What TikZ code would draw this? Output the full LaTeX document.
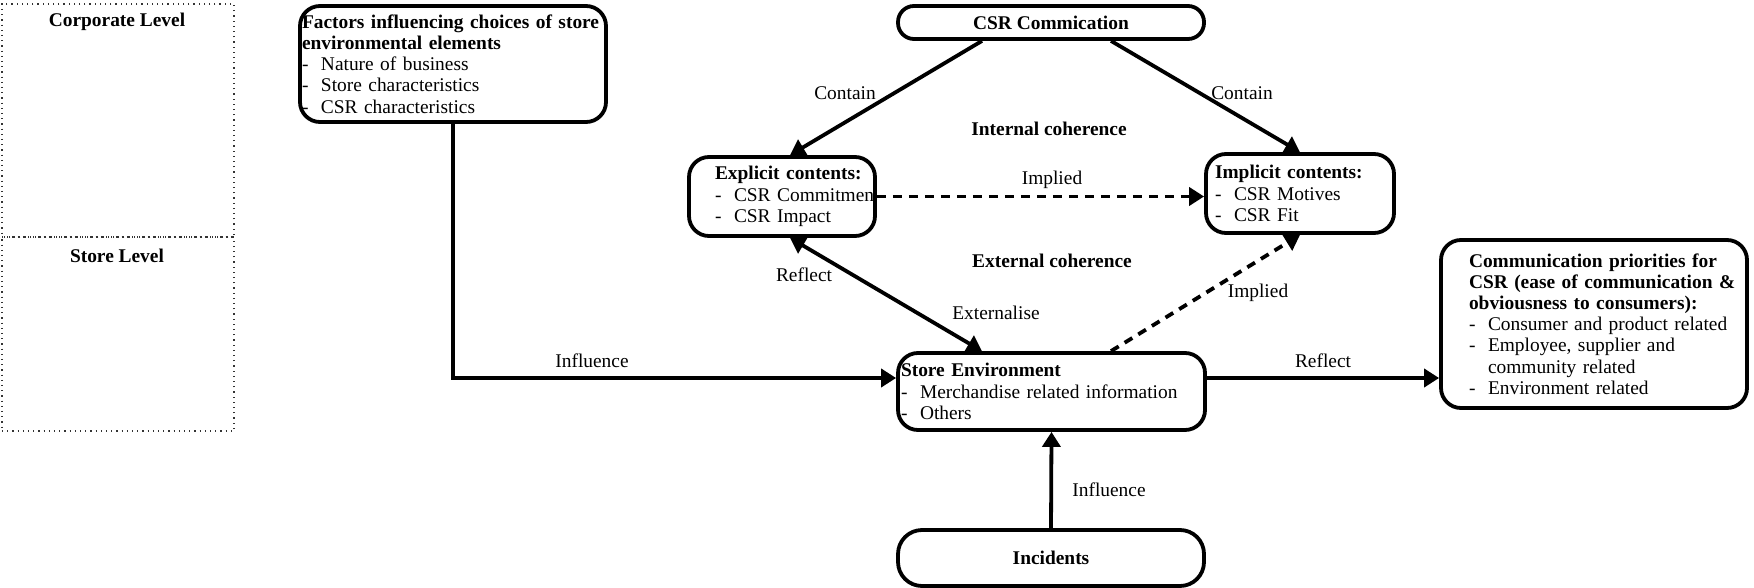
\documentclass[tikz,border=0pt]{standalone}
\usepackage{fontspec}
\setmainfont{Liberation Serif}
\usetikzlibrary{arrows.meta,positioning,calc}
\newcommand{\fs}{\fontsize{9.7}{10.6}\selectfont}
\newcommand{\itm}[1]{\mbox{\makebox[9.5pt][l]{-}#1}}
\newcommand{\hd}[1]{\mbox{\bfseries #1}}
\tikzset{
  box/.style={rectangle, draw, rounded corners=10pt, line width=1.9pt, align=left, inner ysep=0pt, font=\fs},
  pill/.style={rectangle, draw, line width=1.9pt, align=center, minimum width=153pt, font=\fs\bfseries},
  lvlbox/.style={rectangle, draw=black!80, dotted, line width=0.6pt, inner sep=0pt, minimum width=116pt},
  lbl/.style={font=\fs},
  arrow/.style={-{Triangle[length=7.5pt,width=9pt]}, line width=1.9pt},
  biarrow/.style={{Triangle[length=7.5pt,width=9pt]}-{Triangle[length=7.5pt,width=9pt]}, line width=1.9pt},
  dasharrow/.style={arrow, dash pattern=on 4.5pt off 3.5pt},
}

\begin{document}
\begin{tikzpicture}[x=0.5pt, y=-0.5pt]
  \useasboundingbox (0,0) rectangle (1754,588);

  % level frames
  \node[lvlbox, minimum height=116.5pt] (corp) at (118,120.5) {};
  \node[lvlbox, minimum height=97pt] (shop) at (118,334) {};
  \node[lbl, font=\fs\bfseries] (corpt) at (117,22) {Corporate Level};
  \node[lbl, font=\fs\bfseries] (shopt) at (117,256) {Store Level};

  % boxes
  \node[box, minimum width=153pt, minimum height=58pt, inner xsep=1pt, text width=151pt] (factors) at (453,64)
    {\hd{Factors influencing choices of store}\\\hd{environmental elements}\\\itm{Nature of business}\\\itm{Store characteristics}\\\itm{CSR characteristics}};
  \node[pill, minimum height=16.5pt, rounded corners=8pt] (comm) at (1051,22.5) {CSR Commication};
  \node[box, minimum width=93pt, minimum height=39.5pt, inner xsep=13pt, text width=67pt] (expl) at (782,196.5)
    {\hd{Explicit contents:}\\\itm{CSR Commitmen}\\\itm{CSR Impact}};
  \node[box, minimum width=94pt, minimum height=39.5pt, inner xsep=4.5pt, text width=85pt] (impl) at (1300,193.5)
    {\hd{Implicit contents:}\\\itm{CSR Motives}\\\itm{CSR Fit}};
  \node[box, minimum width=153.5pt, minimum height=38.5pt, inner xsep=1.5pt, text width=150.5pt] (store) at (1051.5,391.5)
    {\hd{Store Environment}\\\itm{Merchandise related information}\\\itm{Others}};
  \node[box, minimum width=153pt, minimum height=84pt, inner xsep=14pt, text width=125pt] (prio) at (1594,324)
    {\hd{Communication priorities for}\\\hd{CSR (ease of communication \&}\\\hd{obviousness to consumers):}\\\itm{Consumer and product related}\\\itm{Employee, supplier and}\\\mbox{\hspace{9.5pt}community related}\\\itm{Environment related}};
  \node[pill, minimum height=28pt, rounded corners=12pt] (inc) at (1051,558) {Incidents};

  % connectors
  \draw[arrow] (factors.south) |- ([yshift=6.75pt]store.west);
  \draw[arrow] ([yshift=6.75pt]store.east) -- ([yshift=6.75pt]store.east -| prio.west);
  \draw[arrow] (inc.north) -- (store.south);
  \draw[arrow] ([xshift=-34.5pt]comm.south) -- ([xshift=4pt]expl.north);
  \draw[arrow] ([xshift=30pt]comm.south) -- (impl.north);
  \draw[biarrow] ([xshift=-34.75pt]store.north) -- ([xshift=4pt]expl.south);
  \draw[dasharrow] ([xshift=29.75pt]store.north) -- (impl.south);
  \draw[dasharrow] (expl.east) -- (expl.east -| impl.west);

  % labels
  \node[lbl] (l1) at (845,93) {Contain};
  \node[lbl] (l2) at (1242,93) {Contain};
  \node[lbl, font=\fs\bfseries] (l3) at (1049,129) {Internal coherence};
  \node[lbl] (l4) at (1052,180) {Implied};
  \node[lbl, font=\fs\bfseries] (l5) at (1052,261) {External coherence};
  \node[lbl] (l6) at (804,275) {Reflect};
  \node[lbl] (l7) at (996,313) {Externalise};
  \node[lbl] (l8) at (1258,293) {Implied};
  \node[lbl] (l9) at (592,361) {Influence};
  \node[lbl] (l10) at (1323,361) {Reflect};
  \node[lbl] (l11) at (1109,490) {Influence};
\end{tikzpicture}
\end{document}
